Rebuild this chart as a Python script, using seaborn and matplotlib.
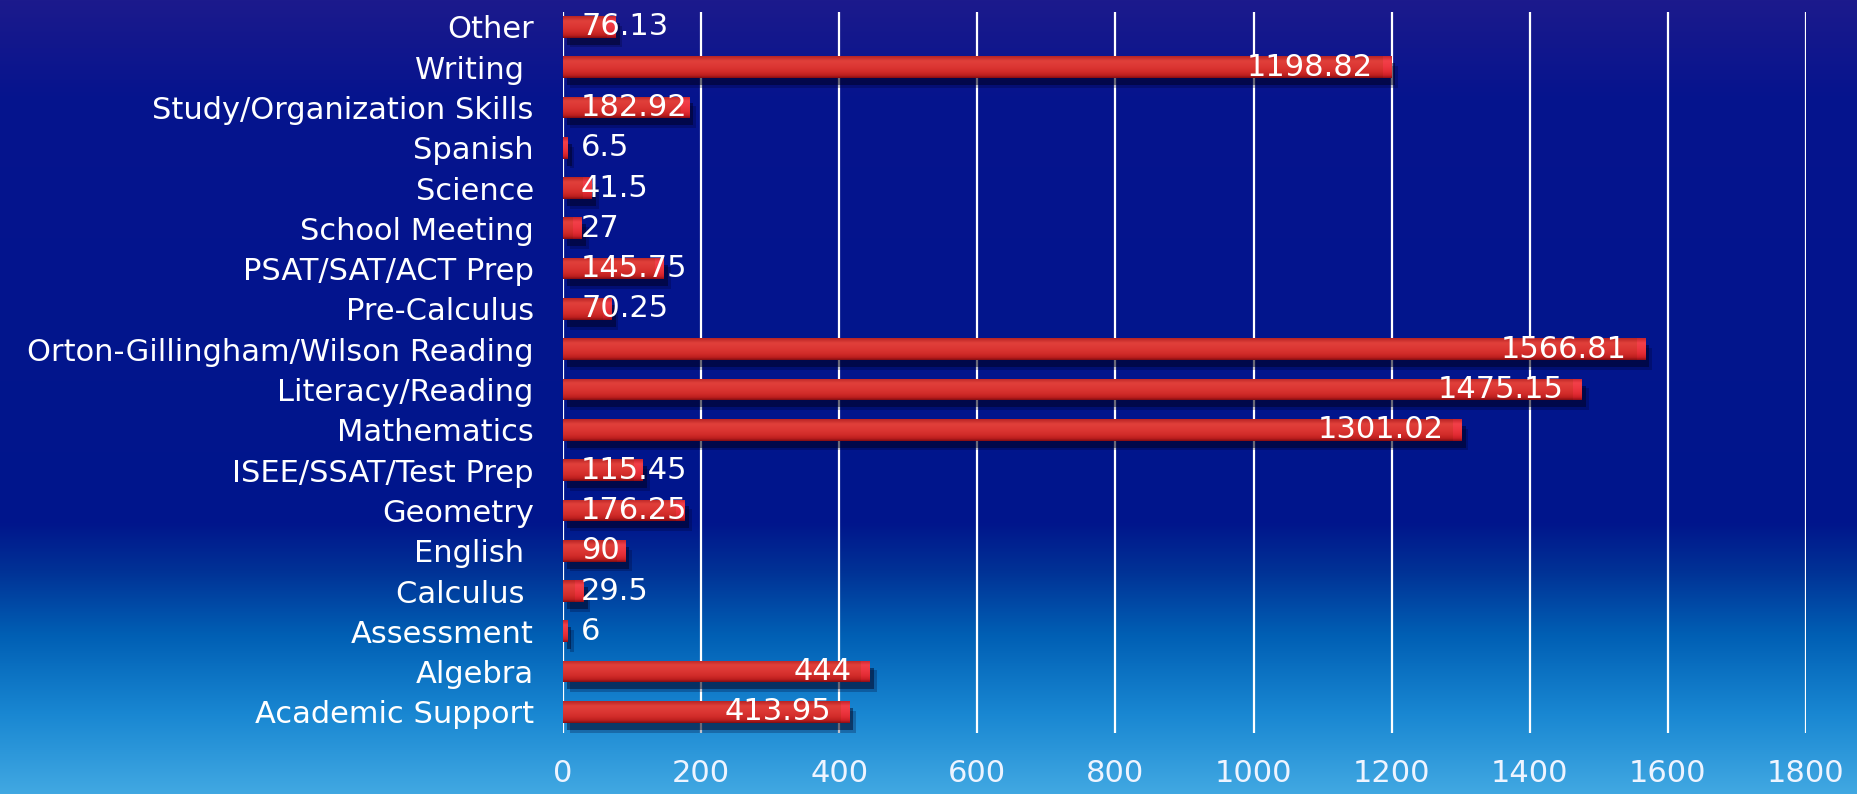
import numpy as np
import pandas as pd
import seaborn as sns
import matplotlib.pyplot as plt
import matplotlib.patheffects as pe

subjects = ["Other", "Writing ", "Study/Organization Skills", "Spanish", "Science",
            "School Meeting", "PSAT/SAT/ACT Prep", "Pre-Calculus",
            "Orton-Gillingham/Wilson Reading", "Literacy/Reading", "Mathematics",
            "ISEE/SSAT/Test Prep", "Geometry", "English ", "Calculus ", "Assessment",
            "Algebra", "Academic Support"]
hours = [76.13, 1198.82, 182.92, 6.5, 41.5, 27, 145.75, 70.25, 1566.81, 1475.15,
         1301.02, 115.45, 176.25, 90, 29.5, 6, 444, 413.95]
x_ticks = [0, 200, 400, 600, 800, 1000, 1200, 1400, 1600, 1800]

df = pd.DataFrame({"subject": subjects, "hours": hours})

sns.set_style("white")
plt.rcParams["font.family"] = ["DejaVu Sans"]

fig = plt.figure(figsize=(18.58, 7.94), dpi=100)

# background gradient (top dark navy -> bottom light blue)
bg = fig.add_axes([0, 0, 1, 1], zorder=-10)
rows = np.linspace(0, 1, 400)
stops = [0.0, 0.12, 0.66, 0.72, 0.80, 0.90, 1.0]
cols = np.array([[28, 26, 140], [6, 20, 142], [0, 22, 140], [0, 50, 150],
                 [0, 95, 180], [25, 135, 210], [65, 168, 226]]) / 255
grad = np.stack([np.interp(rows, stops, cols[:, k]) for k in range(3)], axis=-1)
bg.imshow(grad[:, None, :], aspect="auto", extent=(0, 1, 0, 1))
bg.axis("off")

ax = fig.add_axes([0.303, 0.077, 0.669, 0.908])
ax.set_facecolor("none")

sns.barplot(data=df, x="hours", y="subject", orient="h", color="#d42c2a",
            width=0.54, linewidth=0, edgecolor="none", ax=ax, zorder=3)

# cylinder-like shading over each bar
shade = np.array([[0.72, 0.14, 0.14], [0.88, 0.25, 0.23], [0.86, 0.21, 0.20],
                  [0.82, 0.17, 0.16], [0.74, 0.12, 0.12], [0.52, 0.05, 0.07]])
prof_pos = np.array([0.0, 0.22, 0.5, 0.72, 0.88, 1.0])
prof = np.linspace(0, 1, 80)
vgrad = np.stack([np.interp(prof, prof_pos, shade[:, k]) for k in range(3)], axis=-1)
cap = np.clip(vgrad * np.array([1.08, 1.0, 1.25]), 0, 1)
px_per_unit = ax.transData.transform((1, 0))[0] - ax.transData.transform((0, 0))[0]
for p in ax.patches:
    p.set_path_effects([pe.SimplePatchShadow(offset=(5, -7), shadow_rgbFace=(0, 0, 0.15), alpha=0.25),
                        pe.SimplePatchShadow(offset=(3, -5), shadow_rgbFace=(0, 0, 0.1), alpha=0.45),
                        pe.Normal()])
    x0, y0 = p.get_x(), p.get_y()
    w, h = p.get_width(), p.get_height()
    im = ax.imshow(vgrad[:, None, :], aspect="auto", extent=(x0, x0 + w, y0 + h, y0),
                   zorder=4, interpolation="bilinear")
    im.set_clip_path(p)
    cw = min(w, 9 / px_per_unit)
    im2 = ax.imshow(cap[:, None, :], aspect="auto", extent=(x0 + w - cw, x0 + w, y0 + h, y0),
                    zorder=4.5, interpolation="bilinear")
    im2.set_clip_path(p)

ax.set_xlim(0, 1800)
ax.set_ylim(len(subjects) - 1 + 0.52, -0.37)
ax.set_xticks(x_ticks)
ax.grid(axis="x", color="white", linewidth=1.6, zorder=1)
ax.grid(axis="y", visible=False)
ax.set_axisbelow(True)
for s in ax.spines.values():
    s.set_visible(False)
ax.set_xlabel("")
ax.set_ylabel("")
ax.tick_params(axis="x", length=0, pad=19, labelsize=22, labelcolor="#eef4ff")
ax.tick_params(axis="y", length=0, pad=21, labelsize=22, labelcolor="white")

# value labels: inside end of bar, or just after the start for short bars
renderer = fig.canvas.get_renderer()
zero_px = ax.transData.transform((0, 0))[0]
for i, v in enumerate(hours):
    t = ax.annotate(f"{v:g}", xy=(v, i), xytext=(-13, 0), textcoords="offset points",
                    ha="right", va="center", color="white", fontsize=22, zorder=6)
    ext = t.get_window_extent(renderer)
    if ext.x0 < zero_px + 18:
        t.remove()
        ax.annotate(f"{v:g}", xy=(0, i), xytext=(13, 0), textcoords="offset points",
                    ha="left", va="center", color="white", fontsize=22, zorder=6)

fig.savefig("out.png", dpi=100)
